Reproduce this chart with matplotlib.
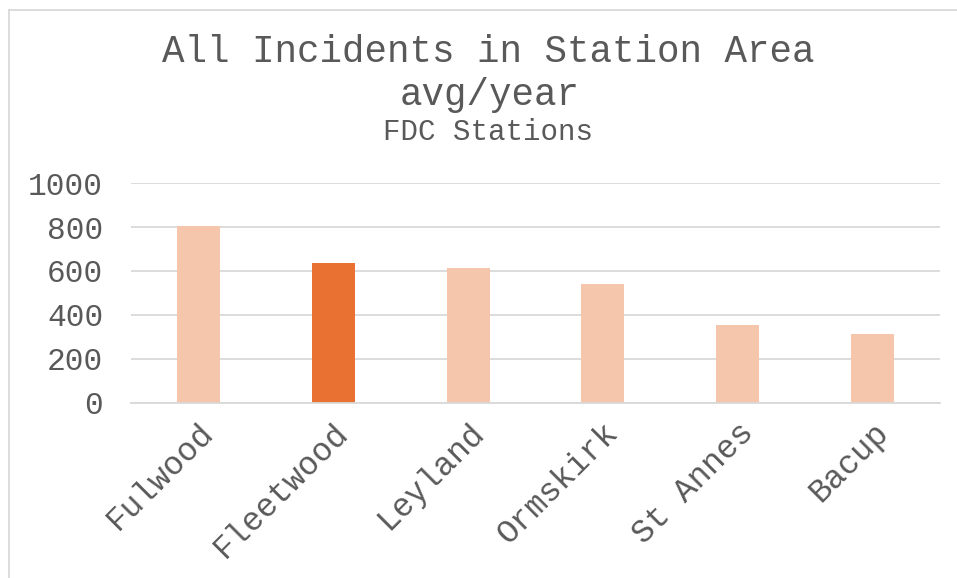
import numpy as np
import matplotlib.pyplot as plt
from matplotlib.lines import Line2D

# Daten
stations = ["Fulwood", "Fleetwood", "Leyland", "Ormskirk", "St Annes", "Bacup"]
incidents = [805, 636, 614, 541, 355, 314]
highlight = "Fleetwood"

light = "#F5C6AB"
dark = "#E97132"
grey = "#595959"
grid = "#D9D9D9"

plt.rcParams['font.family'] = ['Liberation Mono', 'DejaVu Sans Mono']

fig = plt.figure(figsize=(9.57, 5.78), dpi=100)
ax = fig.add_axes([131/957, 1 - 403/578, (940 - 131)/957, (403 - 183)/578])

x = np.arange(len(stations))
colors = [dark if s == highlight else light for s in stations]
ax.bar(x, incidents, width=0.32, color=colors, zorder=2)

ax.set_xlim(-0.5, len(stations) - 0.5)
ax.set_ylim(0, 1000)
ax.set_yticks(range(0, 1001, 200))
ax.yaxis.grid(True, color=grid, linewidth=1.3, zorder=0)
ax.set_axisbelow(True)
for side in ["top", "right", "left"]:
    ax.spines[side].set_visible(False)
ax.spines["bottom"].set_color(grid)
ax.spines["bottom"].set_linewidth(1.3)
ax.tick_params(axis="both", length=0, colors=grey)
ax.tick_params(axis="y", pad=20, labelsize=22.5)
ax.set_xticks(x)
ax.set_xticklabels(stations, rotation=45, ha="right", rotation_mode="anchor",
                   fontsize=23.5)
ax.tick_params(axis="x", pad=10)

# Titel
fig.text(488/957, 1 - 52/578, "All Incidents in Station Area", ha="center",
         va="center", fontsize=27, color=grey)
fig.text(490/957, 1 - 95/578, "avg/year", ha="center", va="center",
         fontsize=27, color=grey)
fig.text(488/957, 1 - 132/578, "FDC Stations", ha="center", va="center",
         fontsize=21, color=grey)

# Rahmen
fig.add_artist(Line2D([9/957, 9/957], [0, 1 - 10/578], transform=fig.transFigure,
                      color=grid, linewidth=1.3))
fig.add_artist(Line2D([9/957, 1], [1 - 10/578, 1 - 10/578], transform=fig.transFigure,
                      color=grid, linewidth=1.3))

fig.savefig("out.png", dpi=100, facecolor="white")
